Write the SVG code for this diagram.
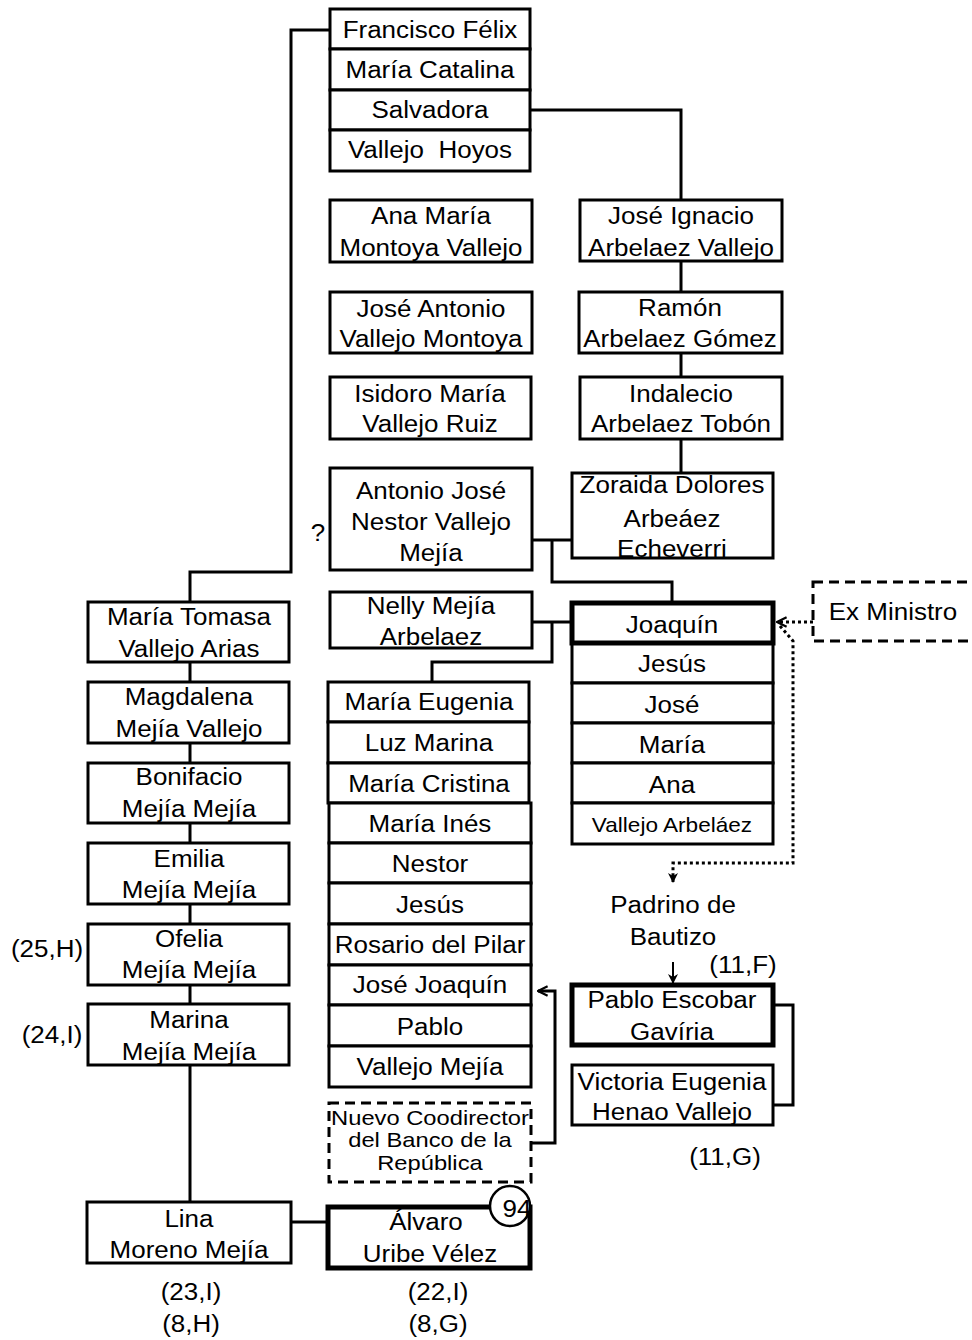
<svg xmlns="http://www.w3.org/2000/svg" width="972" height="1340" viewBox="0 0 972 1340">
<style>
.bx{fill:#fff;stroke:#000;stroke-width:3}
.bk{fill:#fff;stroke:#000;stroke-width:5}
.ds{fill:#fff;stroke:#000;stroke-width:3;stroke-dasharray:10 6}
.ln{fill:none;stroke:#000;stroke-width:3}
.dt{fill:none;stroke:#000;stroke-width:3;stroke-dasharray:3 3}
text{font-family:"Liberation Sans",Arial,sans-serif;font-size:23px;text-anchor:middle;fill:#000;transform-box:fill-box;transform-origin:center;transform:scaleX(1.13)}
.sm{font-size:20px}
.nb{font-size:21px}
</style>
<defs>
<marker id="open" viewBox="0 0 10 10" refX="9" refY="5" markerUnits="userSpaceOnUse" markerWidth="12" markerHeight="12" orient="auto">
<path d="M1,1 L9,5 L1,9" fill="none" stroke="#000" stroke-width="1.8"/>
</marker>
<marker id="solid" viewBox="0 0 10 10" refX="9" refY="5" markerUnits="userSpaceOnUse" markerWidth="10" markerHeight="10" orient="auto">
<path d="M0,0 L10,5 L0,10 L3,5 Z" fill="#000"/>
</marker>
</defs>
<rect width="972" height="1340" fill="#fff"/>

<g id="connectors">
<path class="ln" d="M330,30 H291 V572 H190 V602"/>
<path class="ln" d="M530,110 H681 V200"/>
<path class="ln" d="M681,261 V292 M681,353 V377 M681,439 V473"/>
<path class="ln" d="M532,540 H572 M552,540 V582 H672 V603"/>
<path class="ln" d="M532,622 H572 M552,622 V662 H432 V682"/>
<path class="ln" d="M190,662 V682 M190,743 V763 M190,823 V843 M190,904 V924 M190,985 V1004 M190,1065 V1202"/>
<path class="ln" d="M291,1222 H327"/>
<path class="ln" d="M773,1005 H793 V1105 H773"/>
<path class="ln" d="M531,1143 H555 V991 H538" marker-end="url(#open)"/>
<path class="ln" style="stroke-width:2" d="M673,962 V983" marker-end="url(#solid)"/>
<path class="dt" d="M813,622 H777" marker-end="url(#open)"/>
<path class="dt" d="M780,626 L793,641 V863 H673 V882" marker-end="url(#solid)"/>
</g>

<g id="vallejo-hoyos">
<rect class="bx" x="330" y="9" width="200" height="40"/>
<rect class="bx" x="330" y="49" width="200" height="41"/>
<rect class="bx" x="330" y="90" width="200" height="40"/>
<rect class="bx" x="330" y="130" width="200" height="41"/>
<text x="430" y="38">Francisco Félix</text>
<text x="430" y="78">María Catalina</text>
<text x="430" y="118">Salvadora</text>
<text x="430" y="158" xml:space="preserve">Vallejo  Hoyos</text>
</g>

<g id="ana-maria">
<rect class="bx" x="330" y="200" width="202" height="62"/>
<text x="431" y="224">Ana María</text>
<text x="431" y="256">Montoya Vallejo</text>
</g>
<g id="jose-antonio">
<rect class="bx" x="330" y="292" width="202" height="61"/>
<text x="431" y="317">José Antonio</text>
<text x="431" y="347">Vallejo Montoya</text>
</g>
<g id="isidoro">
<rect class="bx" x="330" y="377" width="201" height="62"/>
<text x="430" y="402">Isidoro María</text>
<text x="430" y="432">Vallejo Ruiz</text>
</g>

<g id="jose-ignacio">
<rect class="bx" x="580" y="200" width="202" height="61"/>
<text x="681" y="224">José Ignacio</text>
<text x="681" y="256">Arbelaez Vallejo</text>
</g>
<g id="ramon">
<rect class="bx" x="579" y="292" width="203" height="61"/>
<text x="680" y="316">Ramón</text>
<text x="680" y="347">Arbelaez Gómez</text>
</g>
<g id="indalecio">
<rect class="bx" x="580" y="377" width="202" height="62"/>
<text x="681" y="402">Indalecio</text>
<text x="681" y="432">Arbelaez Tobón</text>
</g>
<g id="zoraida">
<rect class="bx" x="572" y="473" width="201" height="85"/>
<text x="672" y="493">Zoraida Dolores</text>
<text x="672" y="527">Arbeáez</text>
<text x="672" y="557">Echeverri</text>
</g>

<g id="antonio-jose">
<rect class="bx" x="330" y="468" width="202" height="102"/>
<text x="431" y="499">Antonio José</text>
<text x="431" y="530">Nestor Vallejo</text>
<text x="431" y="561">Mejía</text>
</g>
<g id="interrogacion">
<text x="318" y="541">?</text>
</g>

<g id="nelly">
<rect class="bx" x="330" y="592" width="202" height="56"/>
<text x="431" y="614">Nelly Mejía</text>
<text x="431" y="645">Arbelaez</text>
</g>

<g id="vallejo-arbelaez">
<rect class="bx" x="572" y="643" width="201" height="40"/>
<rect class="bx" x="572" y="683" width="201" height="40"/>
<rect class="bx" x="572" y="723" width="201" height="40"/>
<rect class="bx" x="572" y="763" width="201" height="40"/>
<rect class="bx" x="572" y="803" width="201" height="41"/>
<rect class="bk" x="572" y="603" width="201" height="40"/>
<text x="672" y="633">Joaquín</text>
<text x="672" y="672">Jesús</text>
<text x="672" y="713">José</text>
<text x="672" y="753">María</text>
<text x="672" y="793">Ana</text>
<text class="sm" x="672" y="832">Vallejo Arbeláez</text>
</g>

<g id="ex-ministro">
<rect class="ds" x="813" y="582" width="200" height="59"/>
<text x="893" y="620">Ex Ministro</text>
</g>

<g id="vallejo-mejia">
<rect class="bx" x="328" y="682" width="201" height="40"/>
<rect class="bx" x="328" y="722" width="201" height="41"/>
<rect class="bx" x="328" y="763" width="201" height="40"/>
<rect class="bx" x="329" y="803" width="202" height="40"/>
<rect class="bx" x="329" y="843" width="202" height="40"/>
<rect class="bx" x="329" y="883" width="202" height="41"/>
<rect class="bx" x="329" y="924" width="202" height="41"/>
<rect class="bx" x="329" y="965" width="202" height="40"/>
<rect class="bx" x="329" y="1005" width="202" height="41"/>
<rect class="bx" x="329" y="1046" width="202" height="41"/>
<text x="429" y="710">María Eugenia</text>
<text x="429" y="751">Luz Marina</text>
<text x="429" y="792">María Cristina</text>
<text x="430" y="832">María Inés</text>
<text x="430" y="872">Nestor</text>
<text x="430" y="913">Jesús</text>
<text x="430" y="953">Rosario del Pilar</text>
<text x="430" y="993">José Joaquín</text>
<text x="430" y="1035">Pablo</text>
<text x="430" y="1075">Vallejo Mejía</text>
</g>

<g id="nuevo-coodirector">
<rect class="ds" x="329" y="1103" width="202" height="79"/>
<text class="nb" x="430" y="1125">Nuevo Coodirector</text>
<text class="nb" x="430" y="1147">del Banco de la</text>
<text class="nb" x="430" y="1170">República</text>
</g>

<g id="padrino">
<text x="673" y="913">Padrino de</text>
<text x="673" y="945">Bautizo</text>
<text x="743" y="973">(11,F)</text>
</g>

<g id="pablo-escobar">
<rect class="bk" x="572" y="985" width="201" height="60"/>
<text x="672" y="1008">Pablo Escobar</text>
<text x="672" y="1040">Gavíria</text>
</g>
<g id="victoria-eugenia">
<rect class="bx" x="572" y="1065" width="201" height="60"/>
<text x="672" y="1090">Victoria Eugenia</text>
<text x="672" y="1120">Henao Vallejo</text>
<text x="725" y="1165">(11,G)</text>
</g>

<g id="maria-tomasa">
<rect class="bx" x="88" y="602" width="201" height="60"/>
<text x="189" y="625">María Tomasa</text>
<text x="189" y="657">Vallejo Arias</text>
</g>
<g id="magdalena">
<rect class="bx" x="88" y="682" width="201" height="61"/>
<text x="189" y="705">Magdalena</text>
<text x="189" y="737">Mejía Vallejo</text>
</g>
<g id="bonifacio">
<rect class="bx" x="88" y="763" width="201" height="60"/>
<text x="189" y="785">Bonifacio</text>
<text x="189" y="817">Mejía Mejía</text>
</g>
<g id="emilia">
<rect class="bx" x="88" y="843" width="201" height="61"/>
<text x="189" y="867">Emilia</text>
<text x="189" y="898">Mejía Mejía</text>
</g>
<g id="ofelia">
<rect class="bx" x="88" y="924" width="201" height="61"/>
<text x="189" y="947">Ofelia</text>
<text x="189" y="978">Mejía Mejía</text>
<text x="47" y="957">(25,H)</text>
</g>
<g id="marina">
<rect class="bx" x="88" y="1004" width="201" height="61"/>
<text x="189" y="1028">Marina</text>
<text x="189" y="1060">Mejía Mejía</text>
<text x="52" y="1043">(24,I)</text>
</g>

<g id="lina">
<rect class="bx" x="87" y="1202" width="204" height="61"/>
<text x="189" y="1227">Lina</text>
<text x="189" y="1258">Moreno Mejía</text>
<text x="191" y="1300">(23,I)</text>
<text x="191" y="1332">(8,H)</text>
</g>

<g id="alvaro">
<rect class="bk" x="328" y="1207" width="202" height="61"/>
<text x="426" y="1230">Álvaro</text>
<text x="430" y="1262">Uribe Vélez</text>
<circle cx="510" cy="1206" r="20" fill="#fff" stroke="#000" stroke-width="2.5"/>
<text x="517" y="1217">94</text>
<text x="438" y="1300">(22,I)</text>
<text x="438" y="1332">(8,G)</text>
</g>
</svg>
